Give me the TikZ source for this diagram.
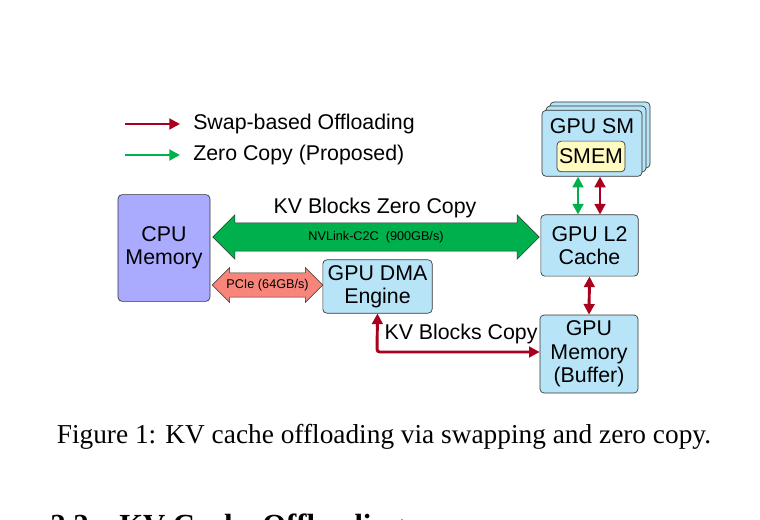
\documentclass[tikz,border=0pt]{standalone}
\usepackage{fontspec}
\setmainfont{Liberation Serif}
\newfontfamily\hsans{Liberation Sans}
\usetikzlibrary{shapes.arrows,arrows.meta}
\definecolor{boxblue}{HTML}{B8E4F8}
\definecolor{cpu}{HTML}{AAAAFF}
\definecolor{smem}{HTML}{FFFBC0}
\definecolor{swapred}{HTML}{A8001E}
\definecolor{zgreen}{HTML}{00B04C}
\definecolor{pcie}{HTML}{F7857A}
\tikzset{
  blk/.style={draw=black!80, rounded corners=3pt, line width=0.5pt, align=center, inner sep=0pt, font=\hsans\fontsize{16}{17.5}\selectfont},
  redar/.style={draw=swapred, line width=2.2pt, {Triangle[length=8pt,width=8pt]}-{Triangle[length=8pt,width=8pt]}},
  grar/.style={draw=zgreen, line width=2.2pt, {Triangle[length=8pt,width=8pt]}-{Triangle[length=8pt,width=8pt]}},
  lbl/.style={font=\hsans\fontsize{16}{18}\selectfont, inner sep=0pt},
  sml/.style={font=\hsans\fontsize{9.5}{10}\selectfont, inner xsep=0pt}
}
\begin{document}
\begin{tikzpicture}[x=0.75pt,y=-0.75pt]
\useasboundingbox (0,0) rectangle (760,520);
\clip (0,0) rectangle (760,520);
% legend
\coordinate (l1a) at (125,124); \coordinate (l1b) at (180,124);
\coordinate (l2a) at (125,155); \coordinate (l2b) at (180,155);
\draw[draw=swapred, line width=2.2pt, -{Triangle[length=8pt,width=8pt]}] (l1a) -- (l1b);
\draw[draw=zgreen, line width=2.2pt, -{Triangle[length=8pt,width=8pt]}] (l2a) -- (l2b);
\node[lbl, anchor=west] (t1) at (193,124) {Swap-based Offloading};
\node[lbl, anchor=west] (t2) at (193,155) {Zero Copy (Proposed)};
% boxes
\node[blk, fill=cpu, minimum width=69pt, minimum height=80pt] (cpu) at (164,248) {CPU\\Memory};
\node[blk, fill=boxblue, minimum width=75pt, minimum height=49.5pt] (sm3) at (600,135) {};
\node[blk, fill=boxblue, minimum width=75pt, minimum height=49.5pt] (sm2) at (596,139) {};
\node[blk, fill=boxblue, minimum width=75pt, minimum height=49.5pt, anchor=north] (sm) at (592,110) {};
\node[lbl] (smt) at (592,126) {GPU SM};
\node[blk, fill=smem, minimum width=51pt, minimum height=23pt] (smem) at (591,156.5) {SMEM};
\node[blk, fill=boxblue, minimum width=73pt, minimum height=46pt] (l2) at (589.5,245.5) {GPU L2\\Cache};
\node[blk, fill=boxblue, minimum width=82pt, minimum height=40pt] (dma) at (377.5,286.5) {GPU DMA\\Engine};
\node[blk, fill=boxblue, minimum width=73.5pt, minimum height=58.5pt] (mem) at (589,354) {GPU\\Memory\\(Buffer)};
% big arrows
\node[double arrow, draw=black!80, line width=0.4pt, fill=zgreen, inner ysep=6pt, double arrow head extend=6pt, minimum height=245pt, sml] (nv) at (376,237) {NVLink-C2C\ \ (900GB/s)};
\node[lbl] (zc) at (375,208) {KV Blocks Zero Copy};
\node[double arrow, draw=black!80, line width=0.4pt, fill=pcie, inner ysep=4.5pt, double arrow head extend=4pt, minimum height=83pt, sml] (pc) at (267.5,285) {PCIe (64GB/s)};
% connectors
\draw[grar] (sm.south -| 578,0) -- (l2.north -| 578,0);
\draw[redar] (sm.south -| 600,0) -- (l2.north -| 600,0);
\draw[redar] (l2.south) -- (mem.north);
\coordinate (corner) at (377,352);
\draw[redar, rounded corners=2pt] (dma.south) -- (corner) -- (mem.west |- corner);
\node[lbl] (kc) at (461,334) {KV Blocks Copy};
% caption
\node[font=\fontsize{20.5}{22}\selectfont, inner sep=0pt] (cap) at (384,437) {Figure 1: KV cache offloading via swapping and zero copy.};
\node[font=\bfseries\fontsize{23}{25}\selectfont, inner sep=0pt, anchor=base west] (sec) at (50,535) {2.2\quad KV Cache Offloading};
\end{tikzpicture}
\end{document}
